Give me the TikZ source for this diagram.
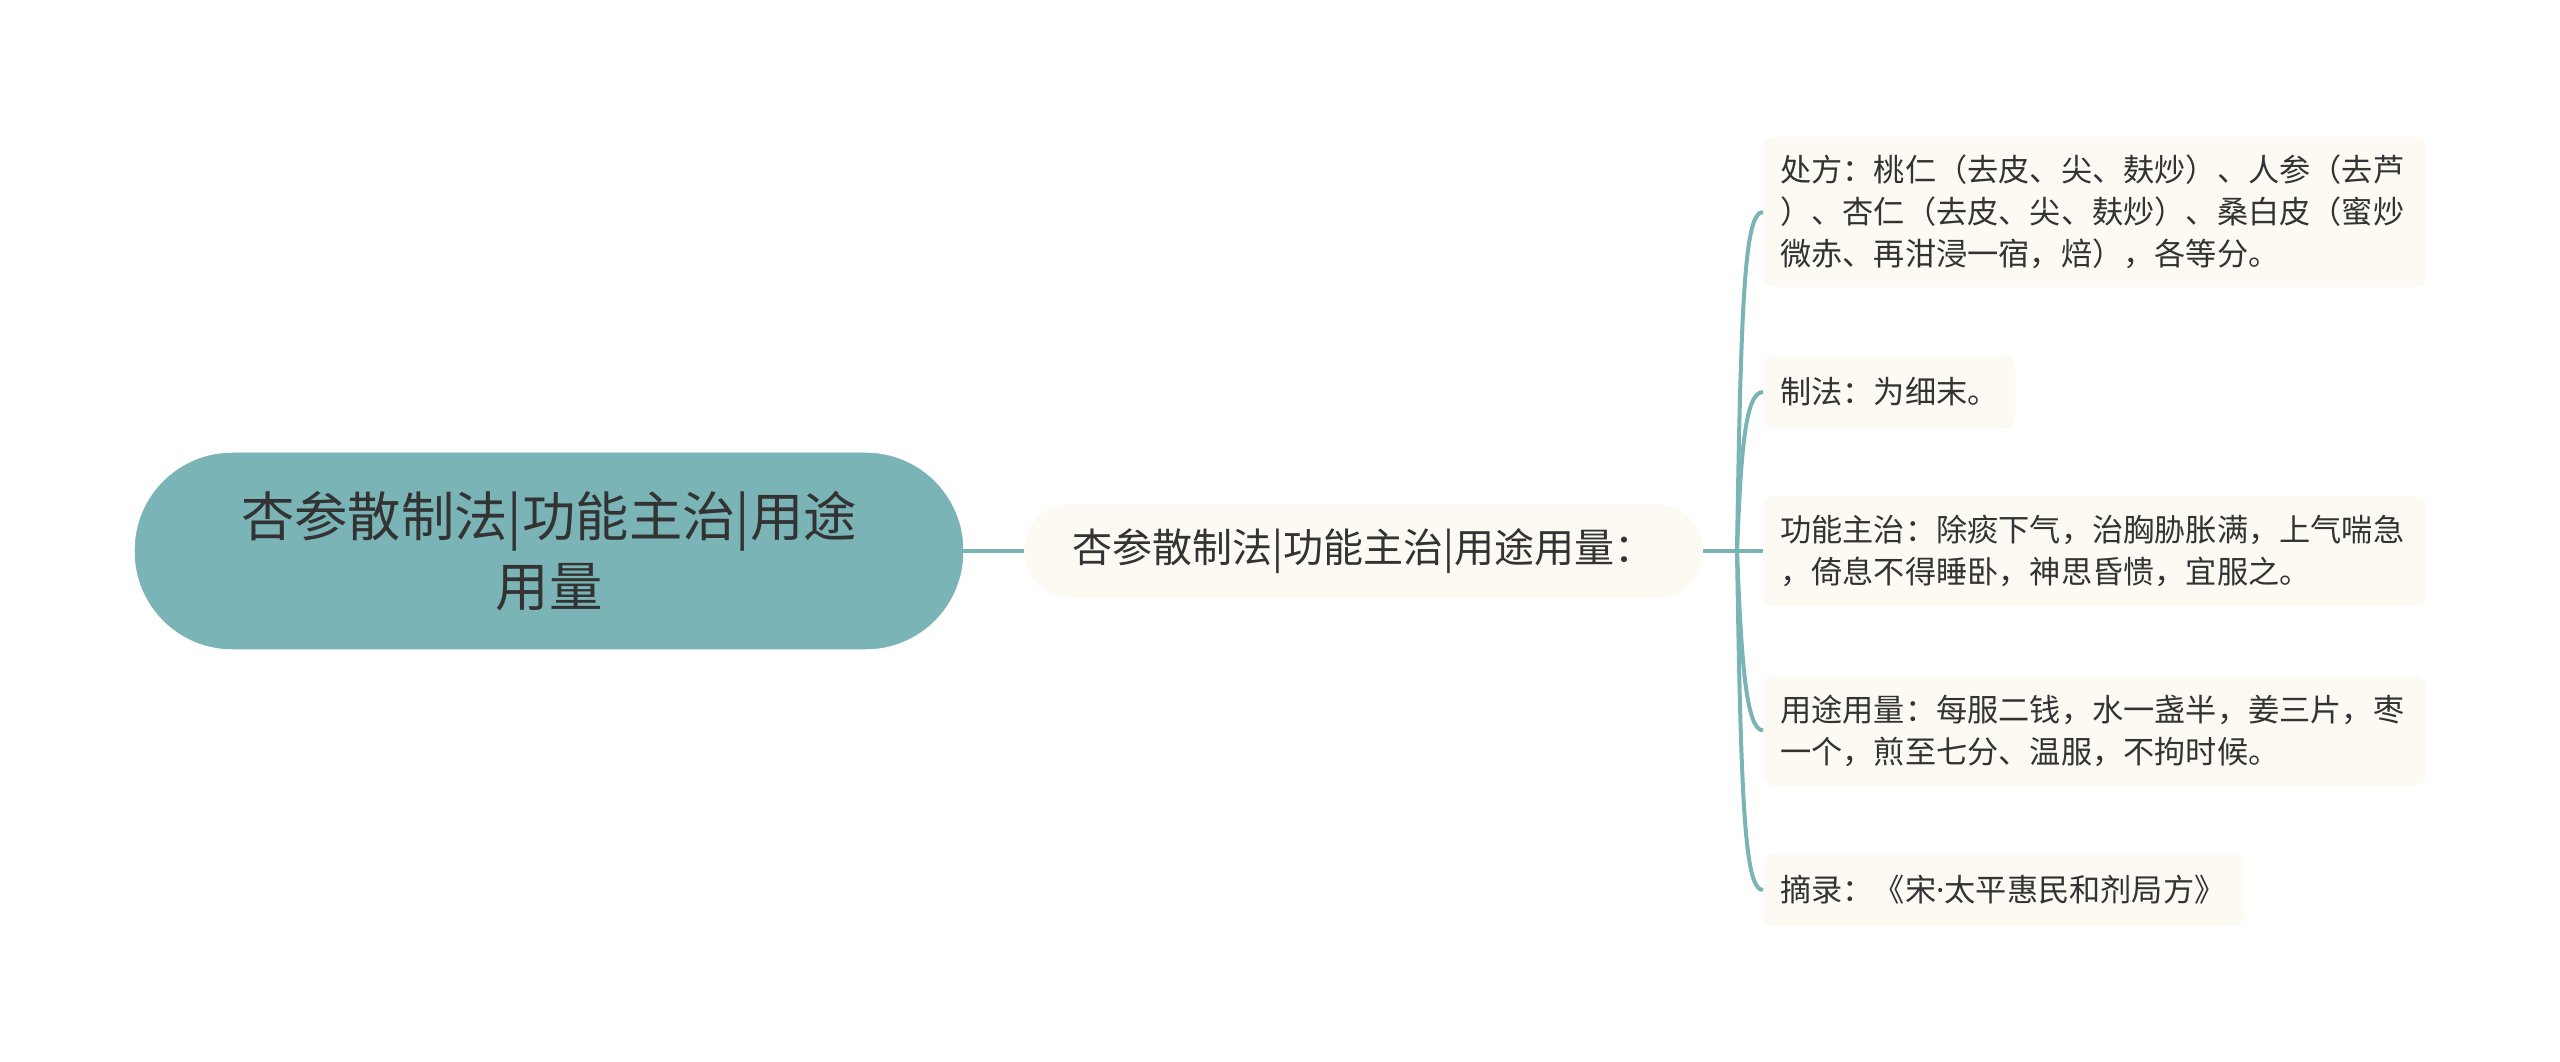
\documentclass[tikz,border=0pt]{standalone}
\usepackage{fontspec}
\setmainfont{Noto Sans CJK SC}
\newfontfamily\latinfont{Noto Sans}
\definecolor{tealline}{HTML}{7AB4B6}
\definecolor{rootfill}{HTML}{7BB4B6}
\definecolor{cream}{HTML}{FCFAF2}
\definecolor{txt}{HTML}{333333}
\tikzset{
  rootbox/.style={fill=rootfill, draw=rootfill, rounded corners=73pt, minimum width=621pt, minimum height=147pt, align=center, text=txt, font=\fontsize{40pt}{52pt}\selectfont, inner sep=0pt},
  midbox/.style={fill=cream, draw=none, rounded corners=35pt, minimum width=509pt, minimum height=70.5pt, align=center, text=txt, font=\fontsize{30pt}{36pt}\selectfont, inner sep=0pt},
  leafbox/.style={fill=cream, draw=none, rounded corners=7.5pt, anchor=west, align=left, text=txt, font=\fontsize{23.4pt}{31.5pt}\selectfont, inner xsep=12.75pt, inner ysep=0pt},
  link/.style={draw=tealline, line width=3pt},
}
\begin{document}
\begin{tikzpicture}[x=0.75pt,y=-0.75pt]
\useasboundingbox[fill=white] (0,0) rectangle (2560,1062);
\node[rootbox] (root) at (549,551) {杏参散制法|功能主治|用途\\用量};
\node[midbox] (mid) at (1363.5,551) {杏参散制法|功能主治|用途用量：};
\node[leafbox, text width=471.75pt, minimum height=112.5pt] (a) at (1763,212) {处方：桃仁（去皮、尖、麸炒）、人参（去芦\\）、杏仁（去皮、尖、麸炒）、桑白皮（蜜炒\\微赤、再泔浸一宿，焙），各等分。};
\node[leafbox, text width=163.5pt, minimum height=54pt] (b) at (1763,392) {制法：为细末。};
\node[leafbox, text width=471.75pt, minimum height=82.5pt] (c) at (1763,551) {功能主治：除痰下气，治胸胁胀满，上气喘急\\，倚息不得睡卧，神思昏愦，宜服之。};
\node[leafbox, text width=471.75pt, minimum height=82pt] (d) at (1763,730.5) {用途用量：每服二钱，水一盏半，姜三片，枣\\一个，煎至七分、温服，不拘时候。};
\node[leafbox, text width=335.25pt, minimum height=54pt] (e) at (1763,890) {摘录：《宋{\latinfont ·}太平惠民和剂局方》};
\coordinate (J) at (1737,551);
\draw[link] (root.east) -- (mid.west);
\draw[link] (mid.east) -- (c.west);
\draw[link] (J) .. controls (1741,292) and (1745,212) .. (a.west);
\draw[link] (J) .. controls (1741,452) and (1745,392) .. (b.west);
\draw[link] (J) .. controls (1741,650) and (1745,730.5) .. (d.west);
\draw[link] (J) .. controls (1741,810) and (1745,890) .. (e.west);
\end{tikzpicture}
\end{document}
